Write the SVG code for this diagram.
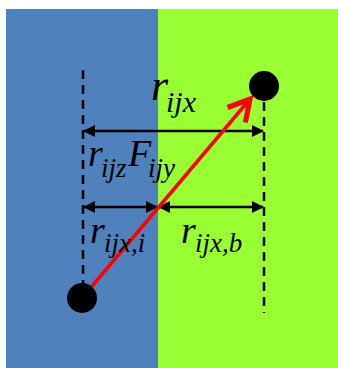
<svg xmlns="http://www.w3.org/2000/svg" width="338" height="368" viewBox="0 0 338 368">
<style>
.dash{stroke:#000;stroke-width:2.5;stroke-dasharray:9,6;fill:none}
.dim{stroke:#000;stroke-width:2.5;fill:none}
.t{font-family:"Liberation Serif","Times New Roman",serif;font-style:italic;fill:#000}
</style>
<defs>
<marker id="ah" viewBox="0 0 12 12" refX="11" refY="6" markerWidth="12" markerHeight="12" markerUnits="userSpaceOnUse" orient="auto-start-reverse">
<path d="M0,0 L12,6 L0,12 Z" fill="#000"/>
</marker>
<marker id="ra" viewBox="0 0 12 12" refX="10" refY="6" markerWidth="8" markerHeight="8" orient="auto">
<path d="M1,1 L10,6 L1,11" fill="none" stroke="#f00" stroke-width="2.2"/>
</marker>
</defs>
<g id="background">
<rect x="6" y="9" width="152" height="359" fill="#4f81bd"/>
<rect x="158" y="9" width="180" height="359" fill="#99ff33"/>
</g>
<g id="connectors">
<line class="dash" x1="83" y1="70" x2="83" y2="285"/>
<line class="dash" x1="264" y1="102" x2="264" y2="313"/>
<line class="dim" x1="84" y1="131" x2="263" y2="131" marker-start="url(#ah)" marker-end="url(#ah)"/>
<line class="dim" x1="84" y1="207" x2="157" y2="207" marker-start="url(#ah)" marker-end="url(#ah)"/>
<line class="dim" x1="159" y1="207" x2="263" y2="207" marker-start="url(#ah)" marker-end="url(#ah)"/>
<line x1="82" y1="298" x2="250" y2="99" stroke="#f00" stroke-width="3.5" marker-end="url(#ra)"/>
</g>
<g id="nodeA"><circle cx="264" cy="86" r="15" fill="#000"/></g>
<g id="nodeB"><circle cx="82" cy="298" r="15" fill="#000"/></g>
<g id="labels">
<text class="t" y="100" font-size="44"><tspan x="151">r</tspan><tspan x="166" font-size="30" dy="12">ijx</tspan></text>
<text class="t" y="166" font-size="38"><tspan x="88">r</tspan><tspan x="101" font-size="27" dy="11">ijz</tspan><tspan x="128" dy="-11">F</tspan><tspan x="148" font-size="27" dy="11">ijy</tspan></text>
<text class="t" y="243" font-size="38"><tspan x="90">r</tspan><tspan x="104" font-size="27" dy="9">ijx,i</tspan></text>
<text class="t" y="243" font-size="38"><tspan x="181">r</tspan><tspan x="195" font-size="27" dy="9">ijx,b</tspan></text>
</g>
</svg>
